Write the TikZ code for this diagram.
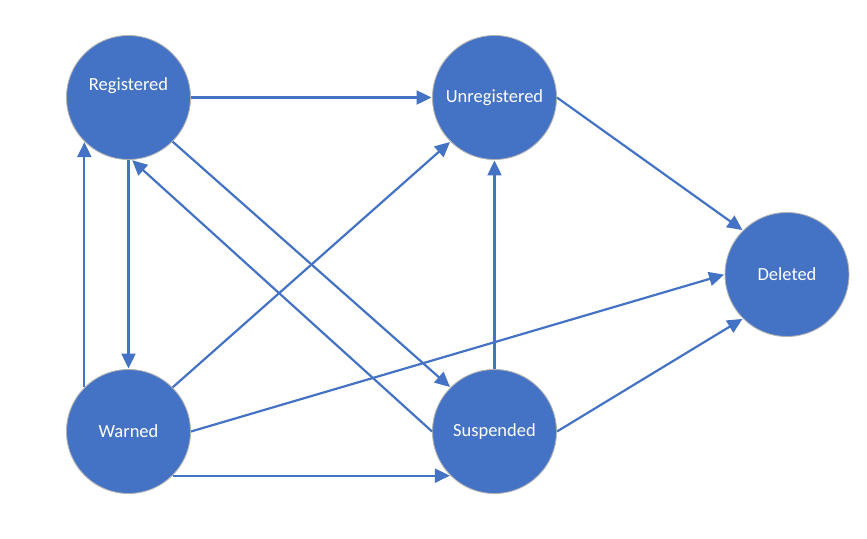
\documentclass[tikz,border=0pt]{standalone}
\usepackage{fontspec}
\setmainfont{Carlito}
\usetikzlibrary{arrows.meta}
\definecolor{stblue}{HTML}{4472C4}
\begin{document}
\begin{tikzpicture}[x=1pt,y=-1pt,
  state/.style={circle, fill=stblue, draw=black!30, line width=0.9pt, minimum size=124pt, inner sep=0pt, text=white, font=\fontsize{18.5}{20}\selectfont},
  lbl/.style={text=white, font=\fontsize{18.5}{20}\selectfont},
  edge/.style={draw=stblue, line width=2.2pt, -{Triangle[length=15pt,width=14pt]}, shorten >=0.5pt}]
\useasboundingbox (0,0) rectangle (867,538);
\node[state] (reg) at (128.5,97.5) {};
\node[lbl] (regl) at (128.5,86) {Registered};
\node[state] (unreg) at (494.5,97.5) {Unregistered};
\node[state] (del) at (787,274.5) {Deleted};
\node[state] (warn) at (128.5,431.5) {Warned};
\node[state] (susp) at (494.5,431.5) {Suspended};
\draw[edge] (reg.east) -- (unreg.west);
\draw[edge] (reg.south) -- (warn.north);
\draw[edge] (warn.135) -- (reg.225);
\draw[edge] (reg.-45) -- (susp.135);
\draw[edge] (susp.west) -- (reg.-87);
\draw[edge] (warn.45) -- (unreg.225);
\draw[edge] (warn.east) -- (del.west);
\draw[edge] (warn.-45) -- (susp.225);
\draw[edge] (susp.north) -- (unreg.south);
\draw[edge] (susp.east) -- (del.225);
\draw[edge] (unreg.east) -- (del.135);
\end{tikzpicture}
\end{document}
